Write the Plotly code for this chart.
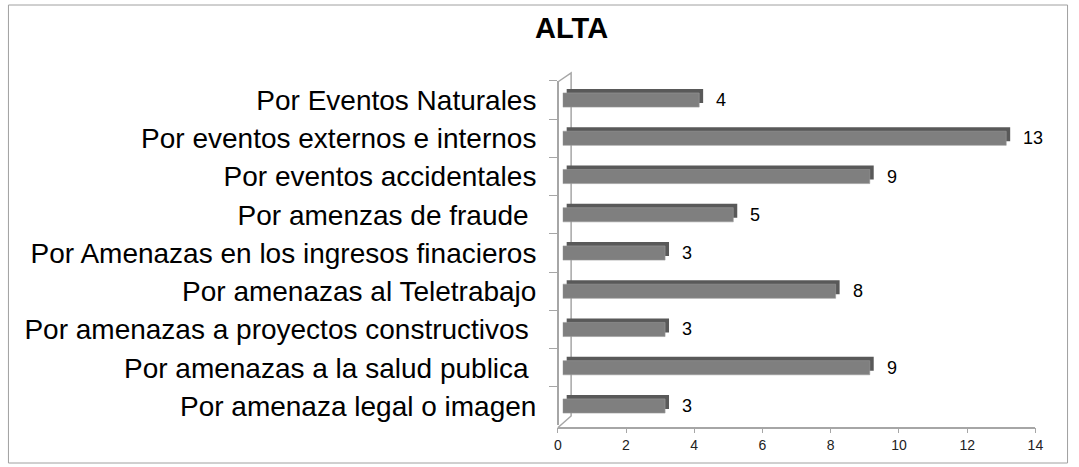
import plotly.graph_objects as go

# Categories listed top to bottom, with their counts
categorias = [
    "Por Eventos Naturales",
    "Por eventos externos e internos",
    "Por eventos accidentales",
    "Por amenzas de fraude\u00a0",
    "Por Amenazas en los ingresos finacieros",
    "Por amenazas al Teletrabajo",
    "Por amenazas a proyectos constructivos\u00a0",
    "Por amenazas a la salud publica\u00a0",
    "Por amenaza legal o imagen",
]
valores = [4, 13, 9, 5, 3, 8, 3, 9, 3]
ticks_x = [0, 2, 4, 6, 8, 10, 12, 14]

W, H = 1079, 467


def px_x(p):
    return p / W


def px_y(p):
    return (H - p) / H


FRONT = "#7f7f7f"
DEPTH = "#595959"
AXIS = "#a6a6a6"
FONT = "Liberation Sans"

# category band (pixels from top) and bar geometry
y_top, y_bot = 80.9, 425.1
band_px = (y_bot - y_top) / len(categorias)
depth_px = 4
bar_w = 0.37
scale = 34.5               # pixels per value unit
floor_x0 = 560             # value 0 on the floor axis
bar_x0 = 565               # value 0 on the plane of the bars

fig = go.Figure()

# darker copy behind, nudged up and right to form the 3D top / side faces
fig.add_trace(go.Bar(
    x=valores, y=categorias, orientation="h", width=bar_w,
    offset=-bar_w / 2 - depth_px / band_px, base=depth_px / scale,
    marker=dict(color=DEPTH, line=dict(width=0)),
    xaxis="x", yaxis="y", hoverinfo="skip", showlegend=False,
))
# front face of the bars
fig.add_trace(go.Bar(
    x=valores, y=categorias, orientation="h", width=bar_w,
    marker=dict(color=FRONT, line=dict(color="#9a9a9a", width=0.6)),
    xaxis="x", yaxis="y", showlegend=False,
))
# empty trace so the floor value axis is laid out
fig.add_trace(go.Scatter(x=[], y=[], xaxis="x2", yaxis="y",
                         showlegend=False, hoverinfo="skip"))

# value labels to the right of each bar
annotations = [
    dict(x=v, y=c, xref="x", yref="y", text=str(v), showarrow=False,
         xanchor="left", yanchor="middle", xshift=15,
         font=dict(family=FONT, size=18, color="#000000"))
    for c, v in zip(categorias, valores)
]

fig.update_layout(
    width=W, height=H,
    margin=dict(l=0, r=0, t=0, b=0),
    paper_bgcolor="white", plot_bgcolor="rgba(0,0,0,0)",
    title=dict(text="<b>ALTA</b>", x=px_x(574), xanchor="center",
               y=px_y(27.5), yanchor="middle", xref="paper",
               font=dict(family=FONT, size=29, color="#000000")),
    barmode="overlay",
    annotations=annotations,
    # value scale on the plane of the bars
    xaxis=dict(
        domain=[px_x(bar_x0), px_x(bar_x0 + 14 * scale)], range=[0, 14],
        anchor="y", visible=False,
    ),
    # value scale drawn along the floor
    xaxis2=dict(
        domain=[px_x(floor_x0), px_x(floor_x0 + 14 * scale)], range=[0, 14],
        anchor="free", position=px_y(427.7),
        tickvals=ticks_x, ticks="outside", ticklen=5, tickcolor=AXIS,
        showline=True, linecolor=AXIS, linewidth=1.5, showgrid=False,
        zeroline=False,
        tickfont=dict(family=FONT, size=14, color="#222222"),
    ),
    yaxis=dict(
        domain=[px_y(y_bot), px_y(y_top)],
        type="category", categoryorder="array", categoryarray=categorias,
        range=[len(categorias) - 0.5, -0.5],
        anchor="free", position=px_x(floor_x0),
        showline=True, linecolor=AXIS, linewidth=1.5,
        ticks="outside", ticklen=8, tickcolor=AXIS, tickson="boundaries",
        showgrid=False, ticklabelstandoff=15,
        tickfont=dict(family=FONT, size=28, color="#000000"),
    ),
    shapes=[
        # outer frame
        dict(type="rect", xref="paper", yref="paper", layer="below",
             x0=px_x(4.5), x1=px_x(1075.5), y0=px_y(463), y1=px_y(5),
             line=dict(color="#a0a0a0", width=1)),
        # back wall edge of the 3D plot area, behind the bars
        dict(type="path", xref="paper", yref="paper", layer="below",
             path=(f"M {px_x(560)} {px_y(82)} L {px_x(573.5)} {px_y(73)} "
                   f"L {px_x(573.5)} {px_y(416)} L {px_x(560)} {px_y(427.7)}"),
             line=dict(color=AXIS, width=1.5)),
    ],
)

fig.write_html("out.html")
